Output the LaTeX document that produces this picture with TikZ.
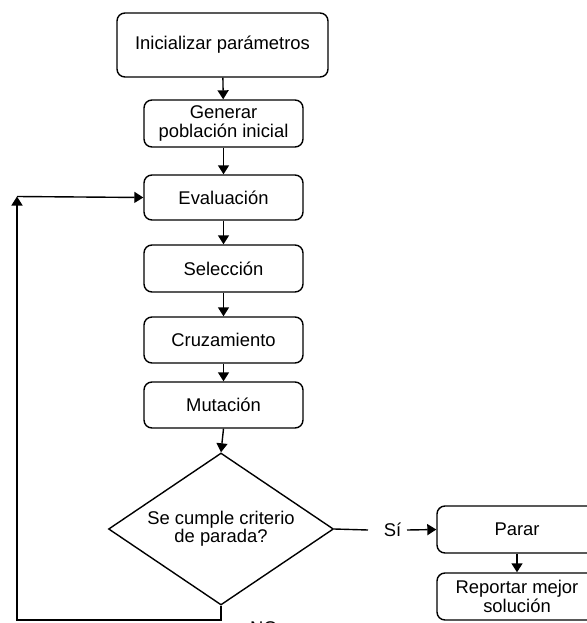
\documentclass[tikz,border=0pt]{standalone}
\usepackage{fontspec}
\setmainfont{Liberation Sans}
\usetikzlibrary{arrows.meta,shapes.geometric}
\begin{document}
\begin{tikzpicture}[x=1pt,y=-1pt,
  txt/.style={font=\fontsize{18.4}{18.2}\selectfont},
  box/.style={txt,draw,rounded corners=8pt,line width=1.4pt,minimum width=159pt,
              minimum height=46pt,align=center,inner sep=0pt},
  arr/.style={-{Triangle[width=11pt,length=9pt]},line width=1.4pt},
  ln/.style={line width=1.4pt}]
\useasboundingbox (0,0) rectangle (586,623);
\node[box,minimum width=211pt,minimum height=64pt] (init) at (222.5,45) {Inicializar parámetros};
\node[box,minimum height=47pt] (gen) at (223.5,123.5) {Generar\\población inicial};
\node[box,minimum height=45pt] (eval) at (223.5,197.5) {Evaluación};
\node[box,minimum height=47pt] (sel) at (223.5,268.5) {Selección};
\node[box,minimum height=46pt] (cruz) at (223.5,340) {Cruzamiento};
\node[box,minimum height=46pt] (mut) at (223.5,405) {Mutación};
\node[txt,draw,diamond,aspect=1.48,line width=1.4pt,inner sep=0pt,align=center,
      minimum width=225pt,minimum height=152pt] (dec) at (221,529) {Se cumple criterio\\de parada?};
\node[box,minimum width=160pt,minimum height=47pt] (parar) at (517,529.5) {Parar};
\node[box,minimum width=160pt,minimum height=47pt] (rep) at (517,596.5) {Reportar mejor\\solución};
\node[txt,anchor=center] (si) at (392.5,530) {Sí};
\node[txt,anchor=north west,inner sep=0pt] (no) at (250,621.5) {NO};
\coordinate (siL) at (368,530);
\coordinate (siR) at (407,530);
\coordinate (nb) at (221,620);
\coordinate (nl) at (17,620);
\coordinate (nt) at (17,196.5);
\draw[arr] (init) -- (gen);
\draw[arr] (gen) -- (eval);
\draw[arr] (eval) -- (sel);
\draw[arr] (sel) -- (cruz);
\draw[arr] (cruz) -- (mut);
\draw[arr] (mut.south) -- (dec.north);
\draw[ln] (dec.east) -- (siL);
\draw[arr] (siR) -- (parar.west);
\draw[arr] (parar) -- (rep);
\draw[arr] (dec.south) -- (nb) -- (nl) -- (nt);
\draw[arr] (nt) -- (eval.west);
\end{tikzpicture}
\end{document}
